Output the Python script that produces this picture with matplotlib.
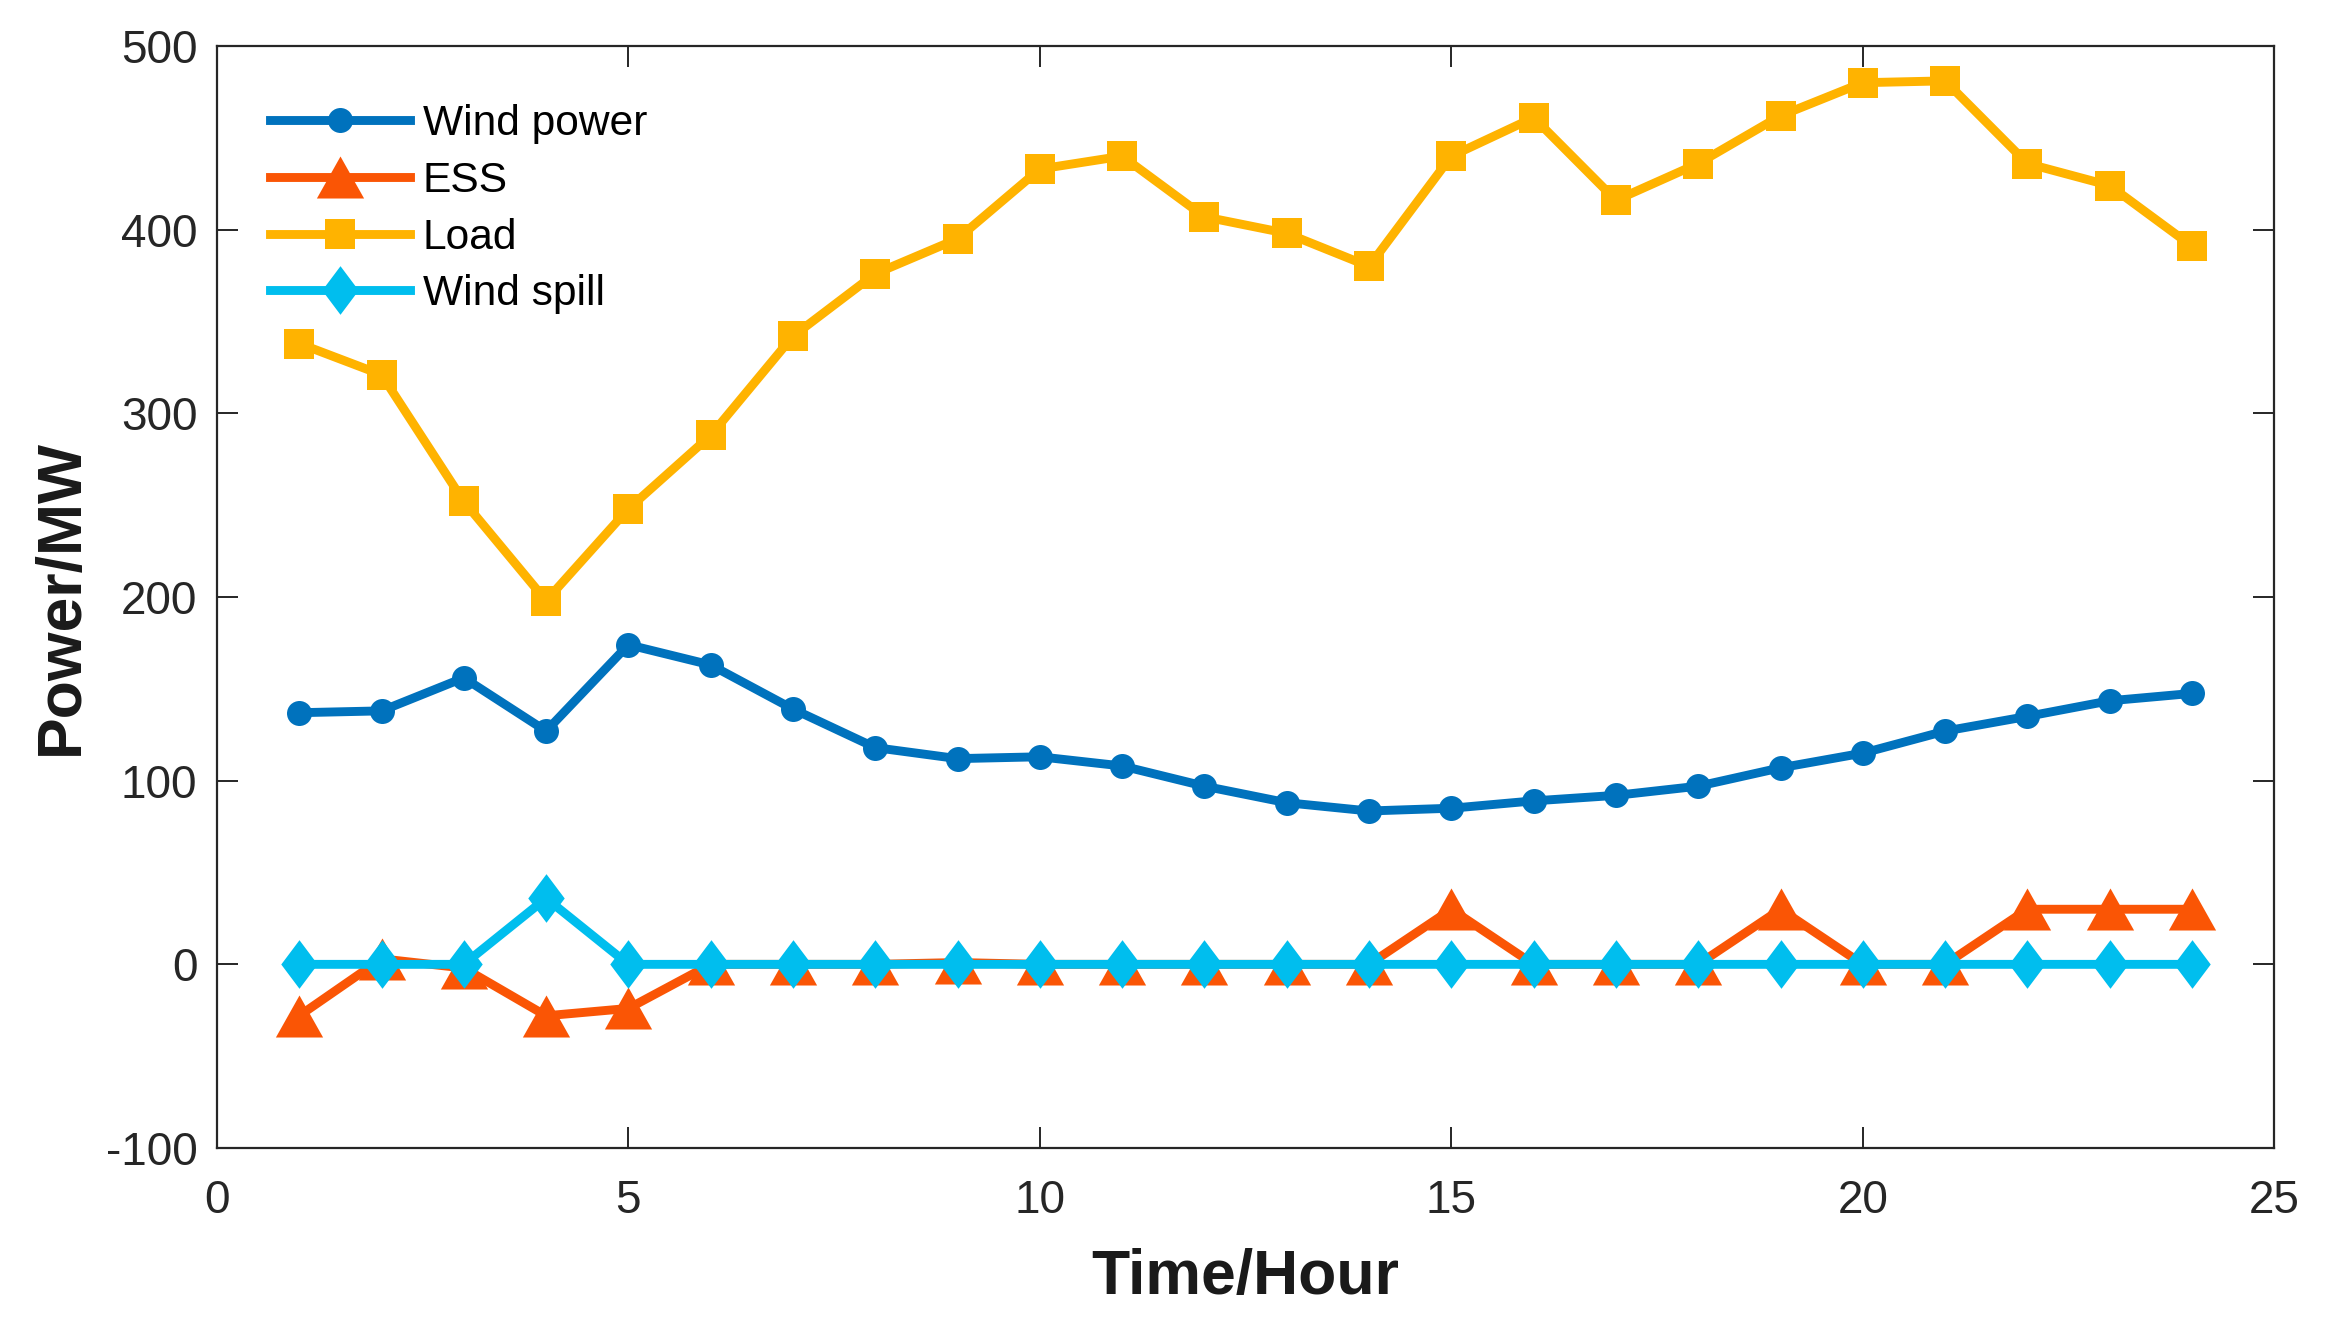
import matplotlib
matplotlib.use("Agg")
import matplotlib.pyplot as plt
import numpy as np

hours = list(range(1, 25))
wind_power = [137, 138, 156, 127, 174, 163, 139, 118, 112, 113, 108, 97,
              88, 83.5, 85, 89, 92, 97, 107, 115, 127, 135, 143.5, 147.5]
ess = [-28, 3, -2, -28, -24, 0, 0, 0, 1, 0, 0, 0,
       0, 0, 30, 0, 0, 0, 30, 0, 0, 30, 30, 30]
load = [338, 321, 252, 198, 248, 288, 342, 376, 395, 433, 440, 407,
        398, 380, 440, 461, 416, 436, 462, 480, 481, 436, 424, 391]
wind_spill = [0, 0, 0, 36, 0, 0, 0, 0, 0, 0, 0, 0,
              0, 0, 0, 0, 0, 0, 0, 0, 0, 0, 0, 0]

series_names = ["Wind power", "ESS", "Load", "Wind spill"]
colors = ["#0072BD", "#FA5505", "#FFB300", "#00BEEE"]

plt.rcParams['font.family'] = ['Liberation Sans', 'DejaVu Sans']
plt.rcParams['axes.unicode_minus'] = False

fig = plt.figure(figsize=(23.35, 13.17), dpi=100)
ax = fig.add_axes([0.0929, 0.1283, 0.974 - 0.0929, 0.9651 - 0.1283])

tri = [(0, 0.89), (1, -0.89), (-1, -0.89), (0, 0.89)]
dia = [(0, 1), (0.75, 0), (0, -1), (-0.75, 0), (0, 1)]

lw = 6.4
ax.plot(hours, wind_power, color=colors[0], lw=lw, marker='o', ms=18,
        mew=0, label=series_names[0])
ax.plot(hours, ess, color=colors[1], lw=lw, marker=tri, ms=34,
        mew=0, label=series_names[1])
ax.plot(hours, load, color=colors[2], lw=lw, marker='s', ms=21,
        mew=0, label=series_names[2])
ax.plot(hours, wind_spill, color=colors[3], lw=lw, marker=dia, ms=35,
        mew=0, label=series_names[3])

ax.set_xlim(0, 25)
ax.set_ylim(-100, 500)
ax.set_xticks([0, 5, 10, 15, 20, 25])
ax.set_yticks([-100, 0, 100, 200, 300, 400, 500])

for s in ax.spines.values():
    s.set_linewidth(1.6)
    s.set_color('#262626')

ax.tick_params(direction='in', length=15, width=1.4, colors='#262626',
               labelsize=33, top=True, right=True)
ax.tick_params(axis='x', pad=22)
ax.tick_params(axis='y', pad=14)

ax.set_xlabel("Time/Hour", fontsize=45, fontweight='bold', labelpad=18,
              color='#1a1a1a')
ax.set_ylabel("Power/MW", fontsize=45, fontweight='bold', labelpad=11,
              color='#1a1a1a')

leg = ax.legend(loc='upper left', bbox_to_anchor=(0.0256, 0.947),
                frameon=False, fontsize=30.6, handlelength=3.3,
                handletextpad=0.3, labelspacing=0.39, borderaxespad=0,
                borderpad=0, numpoints=1)

fig.savefig("out.png", dpi=100)
